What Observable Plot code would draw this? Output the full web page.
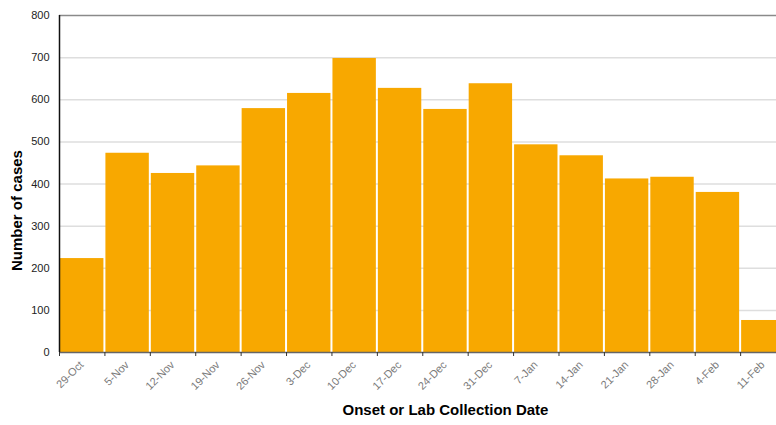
<!DOCTYPE html>
<html><head><meta charset="utf-8">
<script src="https://cdn.jsdelivr.net/npm/d3@7"></script>
<script src="https://cdn.jsdelivr.net/npm/@observablehq/plot@0.6"></script>
<style>body{margin:0;background:#fff;}</style>
</head><body><div id="chart"></div>
<script>
const weeks = ["29-Oct","5-Nov","12-Nov","19-Nov","26-Nov","3-Dec","10-Dec","17-Dec","24-Dec","31-Dec","7-Jan","14-Jan","21-Jan","28-Jan","4-Feb","11-Feb"];
const cases = [223, 473, 425, 443, 579, 615, 698, 627, 577, 638, 493, 467, 412, 416, 380, 76];
const yTicks = [0, 100, 200, 300, 400, 500, 600, 700, 800];
const yTitle = "Number of cases";
const xTitle = "Onset or Lab Collection Date";

const data = weeks.map((w, i) => ({i, week: w, cases: cases[i]}));
const font = "Liberation Sans, Arial, Helvetica, sans-serif";

const chart = Plot.plot({
  width: 776, height: 425,
  marginLeft: 59, marginRight: 0, marginTop: 15, marginBottom: 73,
  style: {fontFamily: font, fontSize: "11px", background: "#fff", overflow: "visible"},
  x: {type: "linear", domain: [0, 15.79], axis: null},
  y: {domain: [0, 800], axis: null},
  marks: [
    Plot.ruleY(yTicks.filter(d => d > 0 && d < 800), {stroke: "#dedede", strokeWidth: 1.5}),
    Plot.rectY(data, {x1: "i", x2: d => d.i + 1, y: "cases", fill: "#F8A800", insetLeft: 1, insetRight: 1, clip: true}),
    Plot.ruleY([800], {stroke: "#8a8a8a", strokeWidth: 1.5}),
    Plot.ruleY([0], {stroke: "#666", strokeWidth: 1.5}),
    Plot.ruleX([0], {stroke: "#111", strokeWidth: 1.5}),
    Plot.axisX(d3.range(16), {tickFormat: () => "", tickSize: 4, stroke: "#333", label: null}),
    Plot.axisY(yTicks, {tickSize: 0, tickPadding: 10, fill: "#222", label: null}),
    Plot.text(data, {x: d => d.i + 0.5, text: "week", frameAnchor: "bottom", dy: 13, dx: 2, rotate: -45, textAnchor: "end", fill: "#7a7a7a", fontSize: 11}),
    Plot.text([yTitle], {y: () => 337, frameAnchor: "left", dx: -42, rotate: -90, textAnchor: "middle", text: d => d, fontWeight: "bold", fontSize: 15, fill: "#000"}),
    Plot.text([xTitle], {x: () => 8.5, frameAnchor: "bottom", dy: 62, textAnchor: "middle", text: d => d, fontWeight: "bold", fontSize: 15, fill: "#000"})
  ]
});
document.getElementById("chart").appendChild(chart);
</script>
</body></html>
